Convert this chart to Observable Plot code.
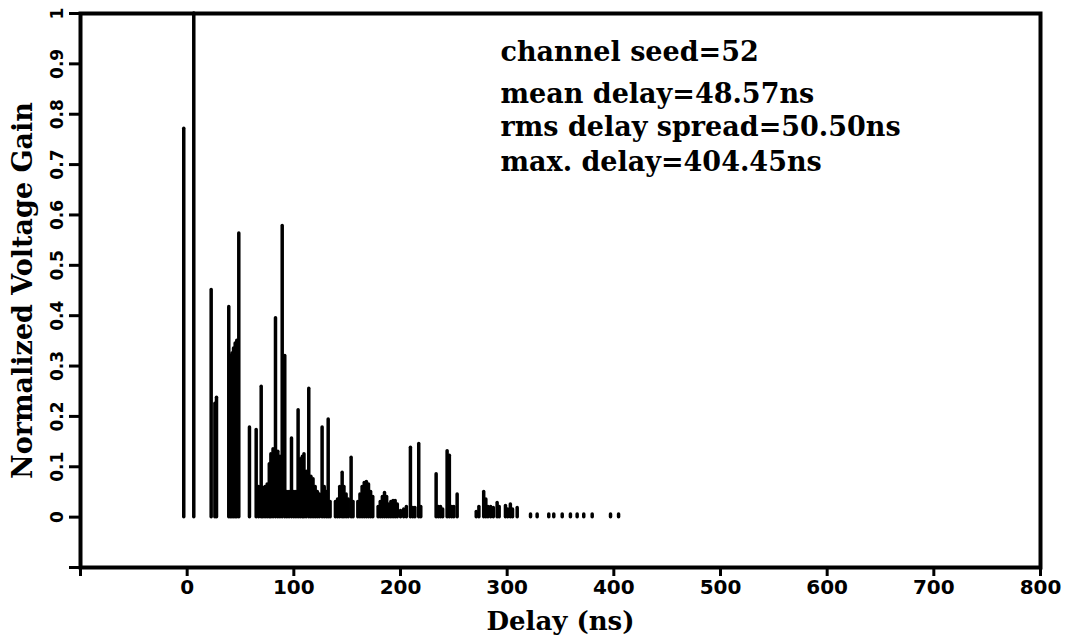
<!DOCTYPE html>
<html>
<head>
<meta charset="utf-8">
<script src="https://cdn.jsdelivr.net/npm/d3@7"></script>
<script src="https://cdn.jsdelivr.net/npm/@observablehq/plot@0.6"></script>
<style>
  body { margin: 0; background: #fff; }
  #chart svg { font-family: "DejaVu Sans", sans-serif; font-weight: bold; }
  #chart [aria-label="x-axis label"],
  #chart [aria-label="y-axis label"] { font-family: "DejaVu Serif", serif; font-size: 26px; }
  #chart [aria-label="y-axis label"] { font-size: 27px; }
  #chart .stats { font-family: "DejaVu Serif", serif; font-weight: bold; }
</style>
</head>
<body>
<div id="chart"></div>
<script>
// Channel impulse response: arrival delay of each tap (ns) and its normalized voltage gain
const delays = [
  -3.2, 6.2, 22.5, 26.0, 27.5, 39.0, 40.5, 42.0, 43.5, 45.0, 46.5, 48.4,
  58.4, 64.7, 67.0, 69.4, 71.0, 73.0, 75.0, 77.0, 78.5, 80.5, 82.8, 85.0, 87.0,
  89.1, 91.5, 93.5, 95.5, 97.8, 100.0, 102.0, 104.0, 106.0, 108.0, 109.5, 111.5,
  114.0, 116.0, 118.0, 120.0, 122.0, 124.0, 126.5, 128.5, 130.5, 132.2, 134.0,
  139.0, 141.0, 143.0, 145.3, 147.0, 149.0, 151.0, 153.7, 155.5,
  160.0, 162.0, 164.0, 166.0, 168.0, 170.0, 172.0, 174.0,
  179.0, 181.0, 183.0, 185.0, 187.0, 189.0, 191.0, 193.0, 195.0, 197.0,
  200.0, 203.0, 205.5, 209.3, 211.5, 213.5, 217.1, 219.0,
  233.4, 235.5, 237.5, 239.5, 243.7, 245.8, 248.0, 250.0, 253.1,
  271.0, 273.5, 278.0, 280.0, 282.0, 284.5, 287.0, 290.6, 292.5,
  298.4, 300.5, 303.0, 305.0, 309.4,
  321.9, 328.1, 339.0, 343.7, 351.6, 359.3, 365.6, 371.8, 379.7, 396.9, 404.45
];
const gains = [
  0.771, 1.0, 0.451, 0.225, 0.237, 0.417, 0.32, 0.325, 0.335, 0.345, 0.35, 0.563,
  0.178, 0.173, 0.06, 0.259, 0.058, 0.06, 0.065, 0.105, 0.125, 0.135, 0.395, 0.13, 0.12,
  0.578, 0.32, 0.05, 0.05, 0.156, 0.05, 0.05, 0.212, 0.115, 0.12, 0.125, 0.09,
  0.255, 0.08, 0.075, 0.06, 0.05, 0.045, 0.178, 0.06, 0.05, 0.194, 0.03,
  0.03, 0.035, 0.06, 0.088, 0.06, 0.045, 0.035, 0.118, 0.03,
  0.03, 0.045, 0.06, 0.068, 0.07, 0.065, 0.05, 0.04,
  0.02, 0.03, 0.04, 0.048, 0.04, 0.025, 0.03, 0.032, 0.032, 0.025,
  0.012, 0.015, 0.02, 0.138, 0.018, 0.018, 0.145, 0.02,
  0.085, 0.02, 0.02, 0.015, 0.131, 0.122, 0.02, 0.02, 0.045,
  0.01, 0.02, 0.05, 0.035, 0.02, 0.02, 0.018, 0.028, 0.02,
  0.022, 0.015, 0.025, 0.015, 0.018,
  0.005, 0.005, 0.005, 0.005, 0.005, 0.005, 0.005, 0.005, 0.005, 0.005, 0.005
];

const xTicks = [-100, 0, 100, 200, 300, 400, 500, 600, 700, 800];
const yTicks = [-0.1, 0, 0.1, 0.2, 0.3, 0.4, 0.5, 0.6, 0.7, 0.8, 0.9, 1];
const yTickLabels = ["", "0", "0.1", "0.2", "0.3", "0.4", "0.5", "0.6", "0.7", "0.8", "0.9", "1"];

const statLines = [
  "channel seed=52",
  "mean delay=48.57ns",
  "rms delay spread=50.50ns",
  "max. delay=404.45ns"
];

const taps = delays.map((delay, i) => ({delay, gain: gains[i]}));

// baseline offsets of the statistics block, measured down from the top of the frame
const statBaselines = [47, 89, 122, 157];

const chart = Plot.plot({
  width: 1070,
  height: 640,
  marginLeft: 80,
  marginRight: 30,
  marginTop: 13,
  marginBottom: 73,
  x: {domain: [-100, 800]},
  y: {domain: [-0.1, 1]},
  marks: [
    Plot.ruleX(taps, {
      x: "delay", y1: 0, y2: "gain",
      stroke: "#000", strokeWidth: 3.5, strokeLinecap: "round"
    }),
    Plot.frame({stroke: "#000", strokeWidth: 4}),
    Plot.axisX({
      ticks: xTicks,
      tickFormat: d => (d < 0 ? "" : String(d)),
      tickSize: 9, tickPadding: 3, strokeWidth: 3,
      fontFamily: "DejaVu Sans", fontWeight: "bold", fontSize: 20,
      label: "Delay (ns)", labelAnchor: "center", labelArrow: "none", labelOffset: 62
    }),
    Plot.axisY({
      ticks: yTicks,
      tickFormat: d => yTickLabels[yTicks.indexOf(d)],
      tickSize: 11, tickPadding: 7, strokeWidth: 3,
      tickRotate: -90,
      fontFamily: "DejaVu Sans", fontWeight: "bold", fontSize: 17,
      label: "Normalized Voltage Gain", labelAnchor: "center", labelArrow: "none", labelOffset: 68
    }),
    ...statLines.map((line, i) => Plot.text([line], {
      frameAnchor: "top-left",
      dx: 420, dy: statBaselines[i],
      textAnchor: "start", lineAnchor: "bottom",
      fontSize: 27, fill: "#000",
      className: "stats"
    }))
  ]
});

document.getElementById("chart").append(chart);
</script>
</body>
</html>
